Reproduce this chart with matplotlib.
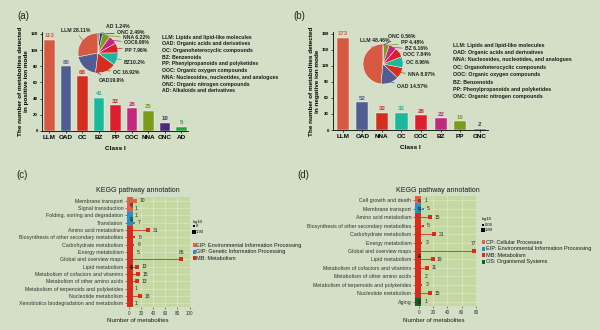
import numpy as np
import matplotlib
matplotlib.use("Agg")
import matplotlib.pyplot as plt
from matplotlib.patches import Rectangle

BG = "#d3dfc6"
PANEL = "#c6d8a2"
PALETTE = ["#d65a42", "#4f5d92", "#d32f1e", "#1bb89c", "#dc1f2c",
           "#c2297e", "#7b9b1a", "#4b2880", "#22a83a"]

# (a) positive ion mode
a_classes = ["LLM", "OAD", "OC", "BZ", "PP", "OOC", "NNA", "ONC", "AD"]
a_counts = [113, 80, 68, 41, 32, 28, 25, 10, 5]
a_pie_labels = ["LLM 28.11%", "OAD19.9%", "OC 16.92%", "BZ10.2%", "PP 7.96%",
                "OOC6.96%", "NNA 6.22%", "ONC 2.49%", "AD 1.24%"]
a_legend = ["LLM: Lipids and lipid-like molecules",
            "OAD: Organic acids and derivatives",
            "OC: Organoheterocyclic compounds",
            "BZ: Benzenoids",
            "PP: Phenylpropanoids and polyketides",
            "OOC: Organic oxygen compounds",
            "NNA: Nucleosides, nucleotides, and analogues",
            "ONC: Organic nitrogen compounds",
            "AD: Alkaloids and derivatives"]

# (b) negative ion mode
b_classes = ["LLM", "OAD", "NNA", "OC", "OOC", "BZ", "PP", "ONC"]
b_counts = [173, 52, 32, 32, 28, 22, 16, 2]
b_pie_labels = ["LLM 48.46%", "OAD 14.57%", "NNA 8.97%", "OC 8.96%",
                "OOC 7.84%", "BZ 6.16%", "PP 4.48%", "ONC 0.56%"]
b_legend = ["LLM: Lipids and lipid-like molecules",
            "OAD: Organic acids and derivatives",
            "NNA: Nucleosides, nucleotides, and analogues",
            "OC: Organoheterocyclic compounds",
            "OOC: Organic oxygen compounds",
            "BZ: Benzenoids",
            "PP: Phenylpropanoids and polyketides",
            "ONC: Organic nitrogen compounds"]

# (c) KEGG, positive
c_paths = ["Membrane transport", "Signal transduction",
           "Folding, sorting and degradation", "Translation",
           "Amino acid metabolism", "Biosynthesis of other secondary metabolites",
           "Carbohydrate metabolism", "Energy metabolism",
           "Global and overview maps", "Lipid metabolism",
           "Metabolism of cofactors and vitamins", "Metabolism of other amino acids",
           "Metabolism of terpenoids and polyketides", "Nucleotide metabolism",
           "Xenobiotics biodegradation and metabolism"]
c_counts = [10, 1, 1, 7, 31, 8, 6, 5, 86, 13, 15, 13, 1, 18, 1]
c_groups = ["EIP", "EIP", "GIP", "GIP"] + ["MB"] * 11
c_group_names = {"EIP": "EIP: Environmental Information Processing",
                 "GIP": "GIP: Genetic Information Processing",
                 "MB": "MB: Metabolism"}

# (d) KEGG, negative
d_paths = ["Cell growth and death", "Membrane transport",
           "Amino acid metabolism", "Biosynthesis of other secondary metabolites",
           "Carbohydrate metabolism", "Energy metabolism",
           "Global and overview maps", "Lipid metabolism",
           "Metabolism of cofactors and vitamins", "Metabolism of other amino acids",
           "Metabolism of terpenoids and polyketides", "Nucleotide metabolism",
           "Aging"]
d_counts = [1, 5, 15, 5, 21, 3, 77, 19, 11, 2, 3, 15, 1]
d_groups = ["CP", "EIP"] + ["MB"] * 10 + ["OS"]
d_group_names = {"CP": "CP: Cellular Processes",
                 "EIP": "EIP: Environmental Information Processing",
                 "MB": "MB: Metabolism",
                 "OS": "OS: Organismal Systems"}

c_colors = {"EIP": "#e0604a", "GIP": "#2a8fc0", "MB": "#d92a1c"}
d_colors = {"CP": "#e0604a", "EIP": "#2a8fc0", "MB": "#d92a1c", "OS": "#1d5a2c"}

W, H = 600, 330
BOLD = dict(family=["Liberation Sans", "DejaVu Sans"], weight="bold")
NARROW = ["Liberation Sans Narrow", "Liberation Sans", "DejaVu Sans"]

fig = plt.figure(figsize=(6, 3.3), dpi=100, facecolor=BG)


def px_axes(x0, y0, x1, y1):
    return fig.add_axes([x0 / W, 1 - y1 / H, (x1 - x0) / W, (y1 - y0) / H])


# overlay in pixel coordinates for free text
ov = fig.add_axes([0, 0, 1, 1], zorder=10)
ov.set_xlim(0, W)
ov.set_ylim(H, 0)
ov.axis("off")
ov.patch.set_alpha(0)


def bar_panel(box, classes, counts, ymax, step, ylab, xlim):
    ax = px_axes(*box)
    ax.set_facecolor("none")
    x = np.arange(len(classes))
    cols = PALETTE[:len(classes)]
    ax.bar(x, counts, width=0.62, color=cols, edgecolor="white", linewidth=0.3)
    for xi, v, c in zip(x, counts, cols):
        ax.text(xi, v + ymax * 0.015, str(v), ha="center", va="bottom",
                fontsize=4.4, color=c, **BOLD)
    ax.set_xlim(*xlim)
    ax.set_ylim(0, ymax * 1.02)
    ax.set_yticks(np.arange(0, ymax + 1, step))
    ax.set_xticks(x)
    ax.set_xticklabels(classes, fontsize=4.6, **BOLD)
    for t in ax.get_yticklabels():
        t.set_fontsize(3.2)
        t.set_fontweight("bold")
        t.set_family(["Liberation Sans", "DejaVu Sans"])
    ax.tick_params(length=1.5, width=0.5, pad=1.5)
    for s in ["top", "right"]:
        ax.spines[s].set_visible(False)
    for s in ["left", "bottom"]:
        ax.spines[s].set_linewidth(0.6)
    ax.set_ylabel(ylab, fontsize=4.6, labelpad=1.5, linespacing=1.1, **BOLD)
    ax.set_xlabel("Class I", fontsize=4.6, labelpad=4, **BOLD)
    return ax


def pie_panel(center, r, counts, labels, text_pos):
    cx, cy = center
    ax = px_axes(cx - r, cy - r, cx + r, cy + r)
    cols = PALETTE[:len(counts)]
    wedges, _ = ax.pie(counts, colors=cols, startangle=90, counterclock=True,
                       wedgeprops=dict(linewidth=0.3, edgecolor="white"))
    ax.set_xlim(-1, 1)
    ax.set_ylim(-1, 1)
    ax.set_aspect("equal")
    for w, lab, pos, c in zip(wedges, labels, text_pos, cols):
        ang = np.deg2rad((w.theta1 + w.theta2) / 2)
        tx, ty, ha = pos
        ax.annotate(lab, xy=(np.cos(ang) * 0.95, np.sin(ang) * 0.95),
                    xytext=(tx, ty), ha=ha, va="center", fontsize=3.7,
                    annotation_clip=False, color="#222222",
                    arrowprops=dict(arrowstyle="-", color=c, lw=0.5,
                                    shrinkA=0, shrinkB=0), **BOLD)
    return ax


# (a)
bar_panel((42, 32, 188, 131), a_classes, a_counts, 120, 20,
          "The number of metabolites detected\nin positive ion mode", (-0.45, 8.4))
pie_panel((98, 53), 20, a_counts, a_pie_labels,
          [(-0.4, 1.12, "right"), (0.05, -1.35, "left"), (0.75, -1.0, "left"),
           (1.3, -0.45, "left"), (1.35, 0.15, "left"), (1.3, 0.5, "left"),
           (1.25, 0.78, "left"), (0.95, 1.05, "left"), (0.4, 1.3, "left")])
for i, line in enumerate(a_legend):
    ov.text(162, 37 + i * 6.75, line, fontsize=3.7, va="center", color="#1a1a1a", **BOLD)

# (b)
bar_panel((333, 32, 488, 130), b_classes, b_counts, 180, 30,
          "The number of metabolites detected\nin negative ion mode", (-0.5, 7.42))
pie_panel((383, 64), 20, b_counts, b_pie_labels,
          [(0.35, 1.15, "right"), (0.7, -1.15, "left"), (1.25, -0.55, "left"),
           (1.15, 0.1, "left"), (1.0, 0.45, "left"), (1.1, 0.75, "left"),
           (0.9, 1.05, "left"), (0.25, 1.4, "left")])
for i, line in enumerate(b_legend):
    ov.text(453, 45 + i * 7.4, line, fontsize=3.8, va="center", color="#1a1a1a", **BOLD)


def kegg_panel(box, paths, counts, groups, gcolors, xlim, ticks, strip_px, maxlog):
    x0, y0, x1, y1 = box
    ax = px_axes(*box)
    ax.set_facecolor(PANEL)
    n = len(paths)
    y = np.arange(n)
    ax.set_xlim(*xlim)
    ax.set_ylim(n - 0.5, -0.5)
    for t in ticks:
        ax.axvline(t, color="white", lw=0.4, alpha=0.45, zorder=0)
    for yi in y:
        ax.axhline(yi, color="white", lw=0.4, alpha=0.45, zorder=0)
    logs = np.log10(counts)
    for yi, v, g, lg in zip(y, counts, groups, logs):
        c = gcolors[g]
        ax.plot([0, v], [yi, yi], color=c, lw=0.7, alpha=0.85, zorder=2)
        if v > 1:
            ax.scatter([v], [yi], s=2.5 + 4.5 * lg / maxlog, color=c,
                       marker="s", zorder=3, linewidths=0)
    scale = (x1 - x0) / (xlim[1] - xlim[0])
    for yi, v in zip(y, counts):
        if v == max(counts) and v > 0.8 * xlim[1]:
            ax.text(v, yi - 0.55, str(v), ha="center", va="bottom",
                    fontsize=3.6, family=NARROW, color="#222222")
        else:
            ax.text(max(v, 1) + 4.5 / scale, yi, str(v), ha="left", va="center",
                    fontsize=3.6, family=NARROW, color="#222222")
    sw = strip_px / scale
    start = 0
    for i in range(1, n + 1):
        if i == n or groups[i] != groups[start]:
            g = groups[start]
            ax.add_patch(Rectangle((xlim[0], start - 0.5), sw, i - start,
                                   facecolor=gcolors[g], edgecolor="none", zorder=4))
            ax.text(xlim[0] + sw / 2, (start + i - 1) / 2, g, rotation=270,
                    ha="center", va="center", fontsize=2.4, color="#222222",
                    family=NARROW, weight="bold", zorder=5)
            start = i
    ax.set_yticks(y)
    ax.set_yticklabels(paths, fontsize=3.8, family=NARROW, color="#222222")
    ax.set_xticks(ticks)
    ax.set_xticklabels([str(t) for t in ticks], fontsize=3.3, family=NARROW)
    ax.tick_params(length=1.2, width=0.4, pad=1.5, colors="#333333")
    for s in ax.spines.values():
        s.set_visible(False)
    return ax


# (c)
kegg_panel((127, 197, 189.5, 307), c_paths, c_counts, c_groups, c_colors,
           (-4, 100), [0, 20, 40, 60, 80, 100], 6, np.log10(max(c_counts)))
ov.text(138, 190, "KEGG pathway annotation", ha="center", va="center",
        fontsize=5.0, family=NARROW, color="#1a1a1a")
ov.text(138, 320, "Number of metabolites", ha="center", va="center",
        fontsize=4.4, family=NARROW, color="#1a1a1a")
ov.text(193, 222, "log10", fontsize=3.0, va="center", family=NARROW)
ov.scatter([194], [226], s=1.5, color="black", marker="s", linewidths=0)
ov.text(196, 226, "0", fontsize=3.0, va="center", family=NARROW)
ov.scatter([194], [232], s=5, color="black", marker="s", linewidths=0)
ov.text(196, 232, "1.93", fontsize=3.0, va="center", family=NARROW)
for i, g in enumerate(c_group_names):
    yy = 245 + i * 6.6
    ov.add_patch(Rectangle((192.5, yy - 2), 3, 4, facecolor=c_colors[g], edgecolor="none"))
    ov.text(196.5, yy, c_group_names[g], fontsize=4.0, va="center",
            family=NARROW, color="#1a1a1a")

# (d)
kegg_panel((415, 196, 477, 306), d_paths, d_counts, d_groups, d_colors,
           (-5.6, 81.4), [0, 20, 40, 60, 80], 6, np.log10(max(d_counts)))
ov.text(438, 190, "KEGG pathway annotation", ha="center", va="center",
        fontsize=5.0, family=NARROW, color="#1a1a1a")
ov.text(434, 320, "Number of metabolites", ha="center", va="center",
        fontsize=4.4, family=NARROW, color="#1a1a1a")
ov.text(482, 219, "log10", fontsize=3.0, va="center", family=NARROW)
ov.scatter([483], [225], s=1.5, color="black", marker="s", linewidths=0)
ov.text(485, 225, "0.00", fontsize=3.0, va="center", family=NARROW)
ov.scatter([483], [230], s=5, color="black", marker="s", linewidths=0)
ov.text(485, 230, "1.89", fontsize=3.0, va="center", family=NARROW)
for i, g in enumerate(d_group_names):
    yy = 242 + i * 6.6
    ov.add_patch(Rectangle((481.5, yy - 2), 3, 4, facecolor=d_colors[g], edgecolor="none"))
    ov.text(485.5, yy, d_group_names[g], fontsize=4.0, va="center",
            family=NARROW, color="#1a1a1a")

# panel letters
for lab, x, y in [("(a)", 17, 16), ("(b)", 293, 16), ("(c)", 16, 175), ("(d)", 297, 175)]:
    ov.text(x, y, lab, fontsize=7, va="center", color="#222222",
            family=["Liberation Sans", "DejaVu Sans"])

fig.savefig("out.png", dpi=100, facecolor=BG)
